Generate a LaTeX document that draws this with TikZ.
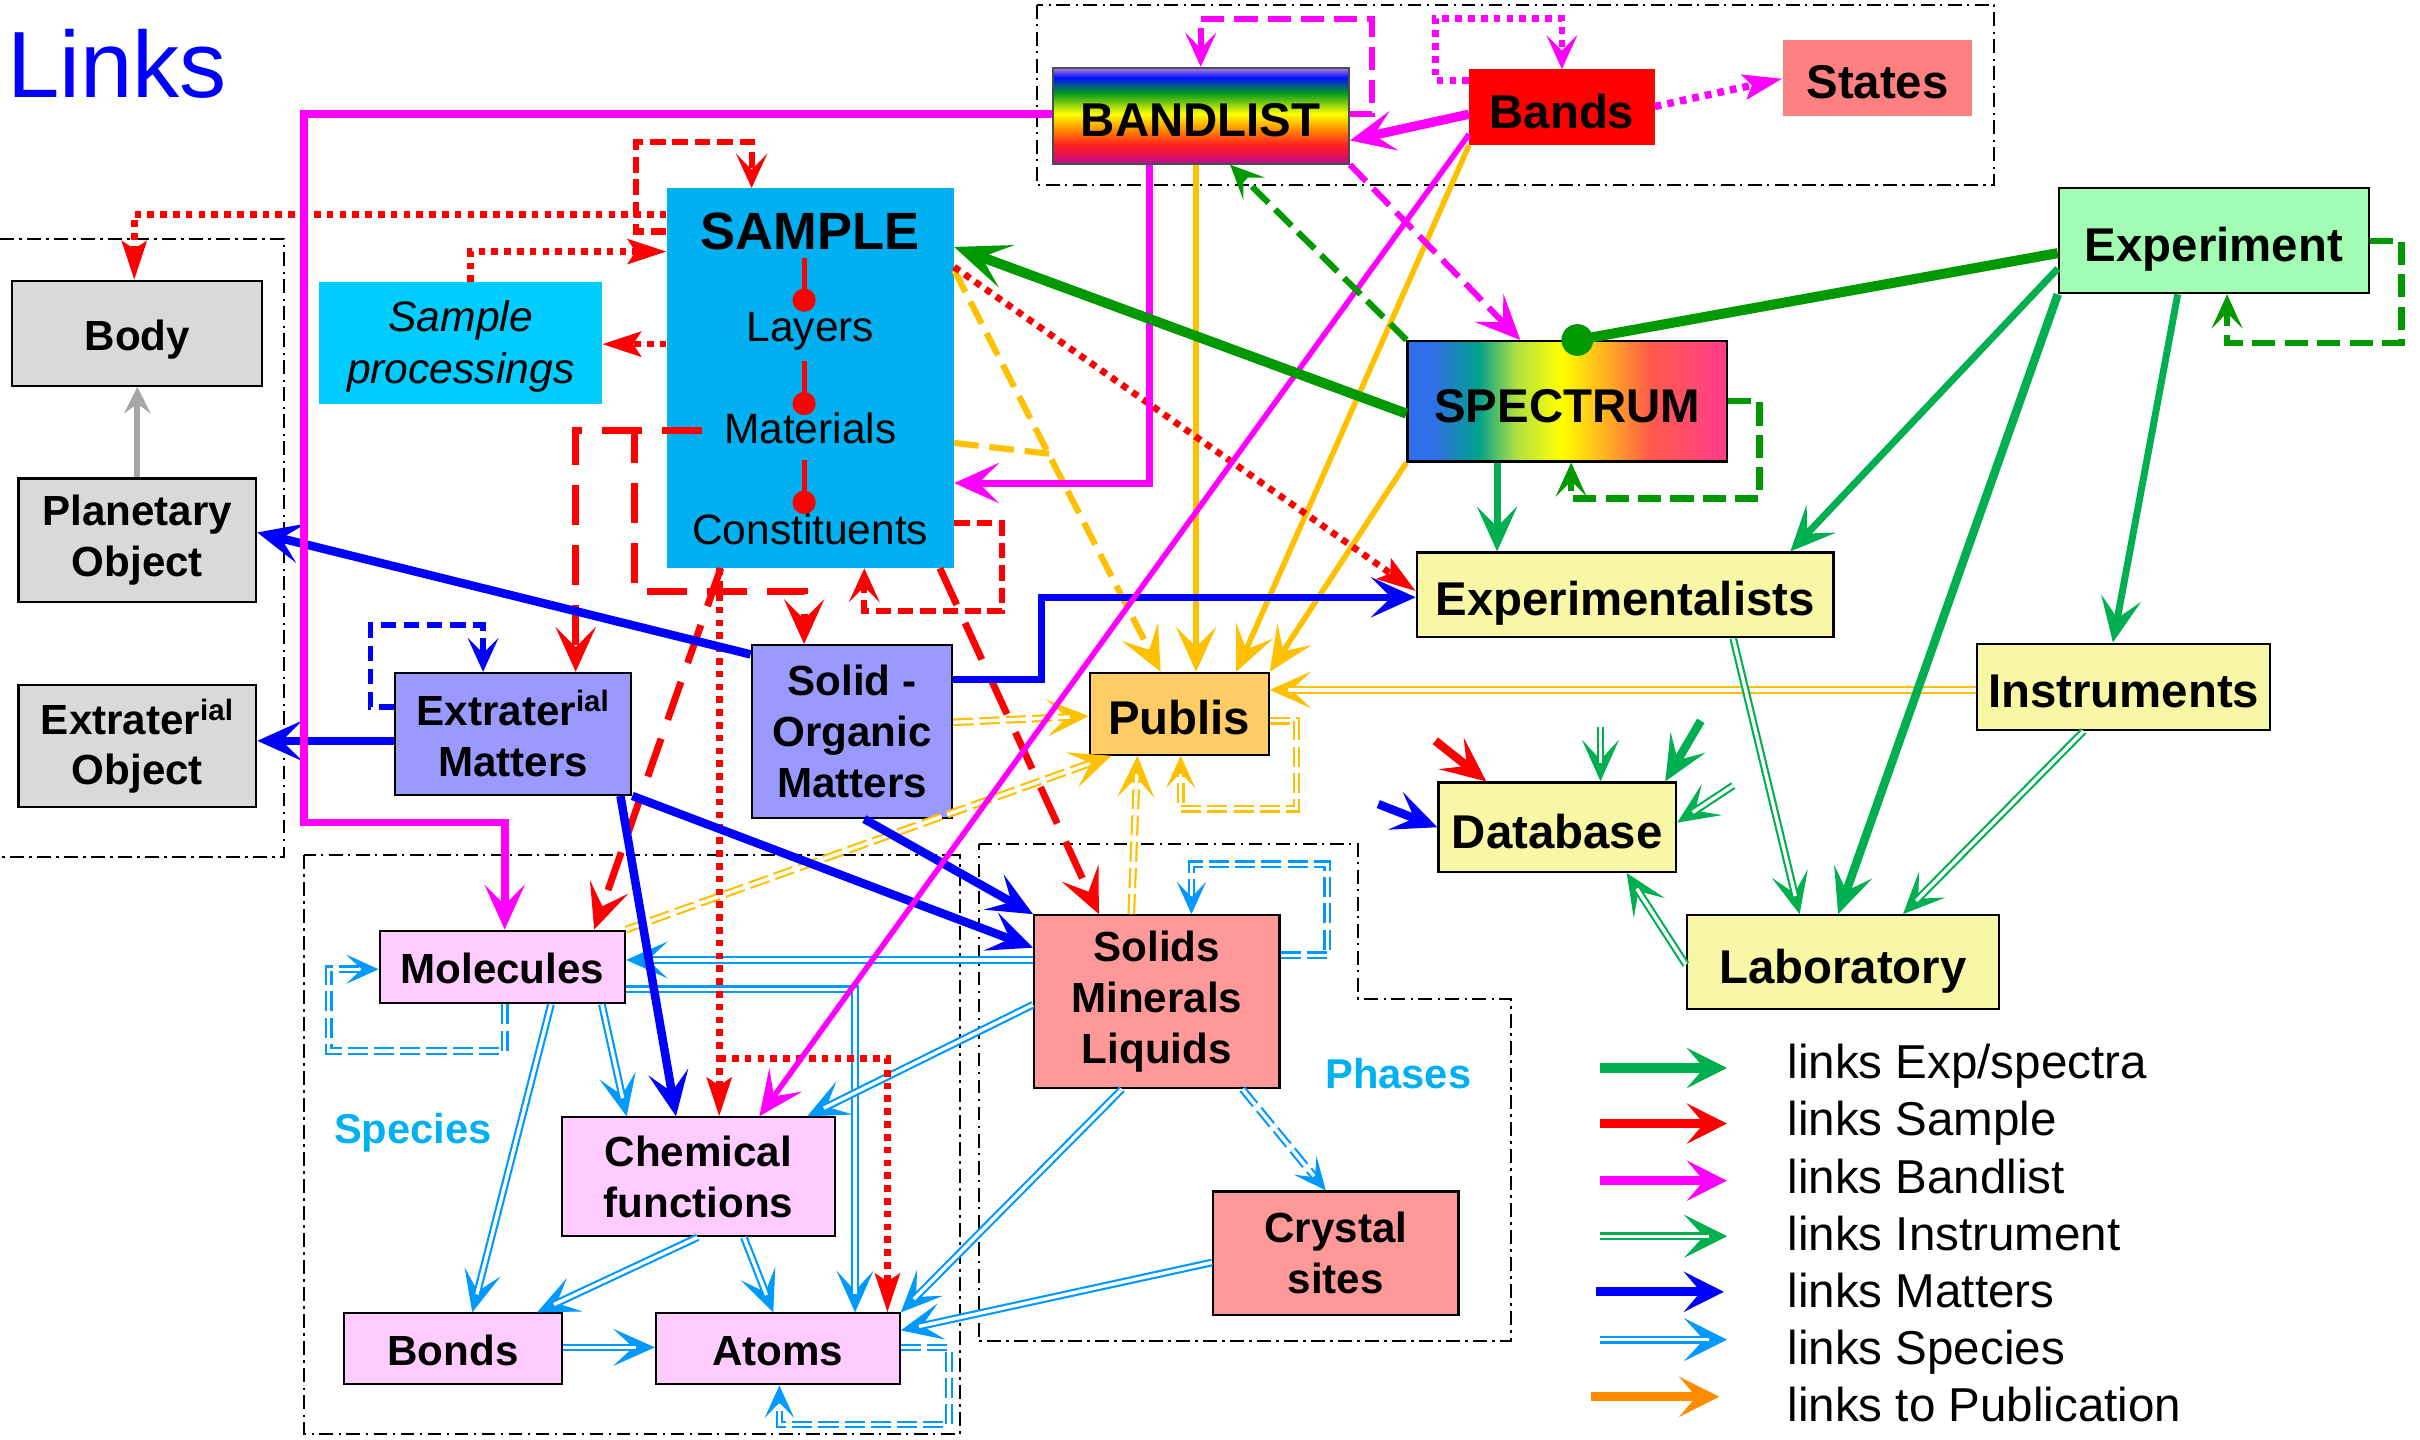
\documentclass[tikz,border=0pt]{standalone}
\usepackage{fontspec}
\setmainfont{Liberation Sans}
\usetikzlibrary{arrows.meta}
\definecolor{cSample}{HTML}{00B0F0}
\definecolor{cProc}{HTML}{00CCFF}
\definecolor{cGray}{HTML}{D9D9D9}
\definecolor{cMatt}{HTML}{9999FF}
\definecolor{cPub}{HTML}{FFCC66}
\definecolor{cExp}{HTML}{A3FCB3}
\definecolor{cYel}{HTML}{F7F7A5}
\definecolor{cPink}{HTML}{FFCCFF}
\definecolor{cSalm}{HTML}{FF9999}
\definecolor{cStates}{HTML}{FF8080}
\definecolor{cRed}{HTML}{FF0000}
\definecolor{cMag}{HTML}{FF00FF}
\definecolor{cBlue}{HTML}{0000FF}
\definecolor{cGreen}{HTML}{00B050}
\definecolor{cDGreen}{HTML}{009900}
\definecolor{cSpc}{HTML}{0099FF}
\definecolor{cOrg}{HTML}{FFC000}
\definecolor{cLOrg}{HTML}{FF8C00}
\definecolor{cArrGray}{HTML}{A6A6A6}
\definecolor{bsA}{HTML}{B0109A}
\definecolor{bsB}{HTML}{E0105A}
\definecolor{bsC}{HTML}{FF2020}
\definecolor{bsD}{HTML}{FF9000}
\definecolor{bsE}{HTML}{FFFF00}
\definecolor{bsF}{HTML}{009A20}
\definecolor{bsG}{HTML}{0010FF}
\definecolor{bsH}{HTML}{B080E0}
\definecolor{ssA}{HTML}{2F6FE8}
\definecolor{ssB}{HTML}{00A08C}
\definecolor{ssC}{HTML}{B0E040}
\definecolor{ssD}{HTML}{FFFF00}
\definecolor{ssE}{HTML}{FFB020}
\definecolor{ssF}{HTML}{FF5A4A}
\definecolor{ssG}{HTML}{FF3C8C}
% TikZ fits the central 25bp..75bp of a declared shading to the node
\pgfdeclareverticalshading{bandshade}{100bp}{color(0bp)=(bsA); color(25bp)=(bsA); color(29bp)=(bsB); color(35bp)=(bsC); color(43bp)=(bsD); color(51bp)=(bsE); color(62bp)=(bsF); color(70bp)=(bsG); color(75bp)=(bsH); color(100bp)=(bsH)}
\pgfdeclarehorizontalshading{specshade}{100bp}{color(0bp)=(ssA); color(29bp)=(ssA); color(36bp)=(ssB); color(42bp)=(ssC); color(49bp)=(ssD); color(56bp)=(ssE); color(63bp)=(ssF); color(75bp)=(ssG); color(100bp)=(ssG)}
\newcommand\fbig{\fontsize{30.7}{34}\selectfont\bfseries}
\newcommand\fsml{\fontsize{27.3}{33}\selectfont\bfseries}
\newcommand\fleg{\fontsize{30.8}{36}\selectfont}
\newcommand\dblarrow[3][dtip]{\draw[#2,line width=.6pt,#1] #3; \draw[#2,dline] #3;}
\tikzset{
  box/.style={draw=black, line width=1.4pt, inner sep=0pt, align=center},
  nb/.style={inner sep=0pt, align=center},
  wh/.style 2 args={minimum width=#1pt, minimum height=#2pt},
  bigt/.style={font=\fbig, text height=27pt, text depth=0pt},
  smlt/.style={font=\fsml, text height=21.6pt, text depth=0pt},
  sml/.style={font=\fsml},
  tipL/.style={-{Stealth[length=29pt,width=26pt,inset=13pt]}},
  tipX/.style={-{Stealth[length=36pt,width=29pt,inset=17pt]}},
  tipM/.style={-{Stealth[length=25pt,width=16pt,inset=5pt]}},
  tipS/.style={-{Stealth[length=22pt,width=20pt,inset=10pt]}},
  tipG/.style={-{Stealth[length=17pt,width=17pt,inset=6pt]}},
  dtip/.style={-{Stealth[length=27pt,width=24pt,inset=13pt]}},
  dtipS/.style={-{Stealth[length=21pt,width=19pt,inset=10pt]}},
  legtip/.style={-{Stealth[length=26pt,width=26pt,inset=11pt]}},
  legd/.style={-{Stealth[length=28pt,width=28pt,inset=13pt]}},
  dline/.style={double=white, double distance=2.2pt, line width=1.4pt, shorten >=12pt},
  mgs/.style={draw=cMag},
  rds/.style={draw=cRed},
  bls/.style={draw=cBlue, line width=5.5pt},
  ors/.style={draw=cOrg},
  grs/.style={draw=cGreen, line width=4.5pt},
  dgs/.style={draw=cDGreen},
  sps/.style={draw=cSpc},
  pdots/.style={line width=4.3pt, dash pattern=on 4.3pt off 4pt},
  pldash/.style={line width=4.5pt, dash pattern=on 26pt off 13pt},
  psdash/.style={line width=4pt, dash pattern=on 10pt off 4.5pt},
  pmdash/.style={line width=3.9pt, dash pattern=on 15pt off 6.5pt},
  pgdash/.style={line width=4pt, dash pattern=on 15pt off 6pt},
  podash/.style={line width=4pt, dash pattern=on 16pt off 7pt},
  pbdash/.style={line width=3.5pt, dash pattern=on 10pt off 5pt},
  pddash/.style={dash pattern=on 13pt off 4pt},
  grpbox/.style={draw=black, line width=1.3pt, dash pattern=on 9pt off 3.5pt on 1.5pt off 3.5pt}
}
\begin{document}
\begin{tikzpicture}[x=1pt,y=-1pt]
\useasboundingbox (0,0) rectangle (1568,933);

% group frames
\draw[grpbox] (672,3) rectangle (1292,120);
\draw[grpbox] (0,155) -- (184,155) -- (184,555) -- (0,555);
\draw[grpbox] (197,554) rectangle (622,929);
\draw[grpbox] (634,547) -- (880,547) -- (880,647) -- (979,647) -- (979,869) -- (634,869) -- cycle;

% title and labels
\node[anchor=base west, inner sep=0pt, text=cBlue, font=\fontsize{61}{70}\selectfont] (TT) at (4.5,63) {Links};
\node[anchor=base, inner sep=0pt, text=cSample, font=\fontsize{27}{30}\selectfont\bfseries] (SPL) at (267.5,741) {Species};
\node[anchor=base, inner sep=0pt, text=cSample, font=\fontsize{27}{30}\selectfont\bfseries] (PHL) at (906,705) {Phases};

% nodes
\node[box, fill=cGray, smlt, wh={162}{68}] (BO) at (89,216) {Body};
\node[box, fill=cGray, sml, wh={154}{80}] (PO) at (89,350) {Planetary\\Object};
\node[box, fill=cGray, sml, wh={154}{79}] (EO) at (89,483.5) {Extrater\textsuperscript{ial}\\Object};
\node[nb, fill=cProc, wh={183}{79}, font=\fontsize{27.6}{34}\selectfont\itshape] (SP) at (298.5,222.5) {\strut Sample\\processings};
\node[nb, fill=cSample, wh={186}{246}] (SA) at (525,245) {};
\node[anchor=base, inner sep=0pt, font=\fontsize{34}{40}\selectfont\bfseries] (SAt) at (525,161.5) {SAMPLE};
\node[anchor=base, inner sep=0pt, font=\fontsize{27.5}{30}\selectfont] (LAY) at (525,221.5) {Layers};
\node[anchor=base, inner sep=0pt, font=\fontsize{27.5}{30}\selectfont] (MAT) at (525,287.5) {Materials};
\node[anchor=base, inner sep=0pt, font=\fontsize{27.5}{30}\selectfont] (CON) at (525,353) {Constituents};
\node[box, draw=black!70, shading=bandshade, bigt, wh={192}{62}] (BL) at (778,75) {BANDLIST};
\node[nb, fill=cRed, bigt, wh={120}{49}] (BD) at (1012,69.5) {Bands};
\node[nb, fill=cStates, bigt, wh={123}{49}] (ST) at (1216.5,50.5) {States};
\node[box, shading=specshade, bigt, wh={207}{78}] (SPC) at (1015.5,260) {SPECTRUM};
\node[box, fill=cExp, bigt, wh={201}{68}] (EX) at (1434.5,156) {Experiment};
\node[box, fill=cYel, bigt, wh={270}{55}] (EXP) at (1053,385.5) {Experimentalists};
\node[box, fill=cYel, bigt, wh={190}{56}] (IN) at (1376,445) {Instruments};
\node[box, fill=cYel, bigt, wh={154}{58}] (DB) at (1009,536) {Database};
\node[box, fill=cYel, bigt, wh={202}{61}] (LA) at (1194,623.5) {Laboratory};
\node[box, fill=cPub, bigt, wh={116}{53}] (PU) at (764,462.5) {Publis};
\node[box, fill=cMatt, sml, wh={153}{79}] (EM) at (332.5,475.5) {Extrater\textsuperscript{ial}\\Matters};
\node[box, fill=cMatt, sml, wh={130}{112}] (SO) at (552,474) {Solid -\\Organic\\Matters};
\node[box, fill=cPink, smlt, wh={159}{47}] (MO) at (325.5,626.5) {Molecules};
\node[box, fill=cPink, sml, wh={177}{77}] (CF) at (452.5,762.5) {Chemical\\functions};
\node[box, fill=cPink, smlt, wh={141}{46}] (BN) at (293.5,874) {Bonds};
\node[box, fill=cPink, smlt, wh={158}{46}] (AT) at (504,874) {Atoms};
\node[box, fill=cSalm, sml, wh={159}{112}] (SM) at (749.5,649) {Solids\\Minerals\\Liquids};
\node[box, fill=cSalm, sml, wh={159}{80}] (CS) at (865.5,812) {Crystal\\sites};

% sample internal links
\draw[rds, line width=3.3pt, -{Circle[length=15pt]}] ([shift={(-4,5.5)}]SAt.base) -- ([shift={(-4,-19.5)}]LAY.base);
\draw[rds, line width=3.3pt, -{Circle[length=15pt]}] ([shift={(-4,12.5)}]LAY.base) -- ([shift={(-4,-18.5)}]MAT.base);
\draw[rds, line width=3.3pt, -{Circle[length=15pt]}] ([shift={(-4,10.5)}]MAT.base) -- ([shift={(-4,-20)}]CON.base);

% gray
\draw[draw=cArrGray, line width=4pt, tipG] (PO.north) -- (BO.south);

% orange links to publication
\draw[ors, line width=3.6pt, tipL] (775,0 |- BL.south) -- (775,0 |- PU.north);
\draw[ors, line width=3.6pt, tipL] (BD.south west) -- (801,0 |- PU.north);
\draw[ors, line width=3.6pt, tipL] (SPC.south west) -- (PU.north east);
\draw[ors, podash, tipL] (SA.east |- 0,175) -- (752,0 |- PU.north);
\coordinate (oj) at (680,294);
\draw[ors, podash] (SA.east |- 0,287) -- (oj);
\dblarrow{ors}{(IN.west |- 0,447) -- (PU.east |- 0,447)}
\dblarrow{ors,pddash}{(SO.east |- 0,468) -- (PU.west |- 0,464)}
\dblarrow{ors,pddash}{(MO.north east) -- (720,0 |- PU.south)}
\dblarrow{ors,pddash}{(733,0 |- SM.north) -- (737,0 |- PU.south)}
\dblarrow[dtipS]{ors,pddash}{(PU.east |- 0,467) -- (840,467) -- (840,524) -- (765,524) -- (765,0 |- PU.south)}

% species
\dblarrow{sps}{(SM.west |- 0,622) -- (MO.east |- 0,622)}
\dblarrow{sps}{(MO.east |- 0,641) -- (554,641) -- (554,0 |- AT.north)}
\dblarrow[dtipS]{sps,pddash}{(327,0 |- MO.south) -- (327,681) -- (213,681) -- (213,628) -- (MO.west |- 0,628)}
\dblarrow{sps}{(357,0 |- MO.south) -- (306,0 |- BN.north)}
\dblarrow{sps}{(390,0 |- MO.south) -- (406,0 |- CF.north)}
\dblarrow{sps}{(482,0 |- CF.south) -- (501,0 |- AT.north)}
\dblarrow{sps}{(452,0 |- CF.south) -- (348,0 |- BN.north)}
\dblarrow{sps}{(BN.east |- 0,873) -- (AT.west |- 0,873)}
\dblarrow[dtipS]{sps,pddash}{(AT.east |- 0,873) -- (615,873) -- (615,923) -- (505,923) -- (505,0 |- AT.south)}
\dblarrow{sps}{(SM.west |- 0,651) -- (523,0 |- CF.north)}
\dblarrow{sps}{(727,0 |- SM.south) -- (AT.north east)}
\dblarrow{sps}{(CS.west |- 0,818) -- (AT.east |- 0,862)}
\dblarrow[dtipS]{sps,pddash}{(805,0 |- SM.south) -- (859,0 |- CS.north)}
\dblarrow[dtipS]{sps,pddash}{(SM.east |- 0,619) -- (860,619) -- (860,560) -- (772,560) -- (772,0 |- SM.north)}

% red links (sample)
\draw[rds, pdots, tipM] (SA.west |- 0,139) -- (87,139) -- (87,0 |- BO.north);
\draw[rds, psdash, tipS] (SA.west |- 0,150) -- (412,150) -- (412,92) -- (487,92) -- (487,0 |- SA.north);
\draw[rds, pdots, tipM] (305,0 |- SP.north) -- (305,163) -- (SA.west |- 0,163);
\draw[rds, pdots, tipM] (SA.west |- 0,223) -- (SP.east |- 0,223);
\coordinate (m0) at (455,279);
\draw[rds, pldash, tipL] (m0) -- (411,279) -- (411,383) -- (521,383) -- (521,0 |- SO.north);
\draw[rds, pldash, tipL] (m0) -- (373,279) -- (373,0 |- EM.north);
\draw[rds, pldash, tipL] (467,0 |- SA.south) -- (385,0 |- MO.north);
\draw[rds, pldash, tipL] (609,0 |- SA.south) -- (712,0 |- SM.north);
\draw[rds, pdots, tipM] (466,0 |- SA.south) -- (466,0 |- CF.north);
\coordinate (rb) at (466,686);
\draw[rds, pdots, tipM] (rb) -- (575,686) -- (575,0 |- AT.north);
\draw[rds, psdash, tipS] (SA.east |- 0,339) -- (649,339) -- (649,396) -- (560,396) -- (560,0 |- SA.south);
\draw[rds, pdots, tipM] (SA.east |- 0,173) -- (EXP.west |- 0,383);

% blue links (matters)
\draw[bls, tipL] (SO.west |- 0,424) -- (PO.east |- 0,345);
\draw[bls, tipL] (EM.west |- 0,480) -- (EO.east |- 0,480);
\draw[bls, pbdash, tipS] (EM.west |- 0,458) -- (240,458) -- (240,405) -- (313,405) -- (313,0 |- EM.north);
\draw[bls, line width=4.5pt, tipL] (SO.east |- 0,440) -- (675,440) -- (675,387) -- (EXP.west |- 0,387);
\draw[bls, tipL] (EM.south east) -- (SM.west |- 0,614);
\draw[bls, tipL] (560,0 |- SO.south) -- (SM.north west);
\draw[bls, tipL] (402,0 |- EM.south) -- (438,0 |- CF.north);

% magenta links (bandlist)
\draw[mgs, line width=5pt, tipL] (BL.west |- 0,74) -- (197,74) -- (197,533) -- (327,533) -- (327,0 |- MO.north);
\draw[mgs, pmdash, tipS] (BL.east |- 0,74) -- (889,74) -- (889,12) -- (778,12) -- (778,0 |- BL.north);
\draw[mgs, pdots, tipS] (BD.west |- 0,52) -- (930,52) -- (930,12) -- (1012,12) -- (1012,0 |- BD.north);
\draw[mgs, pdots, line width=4.8pt, tipM] (BD.east |- 0,69) -- (ST.west |- 0,51);
\draw[mgs, line width=6pt, tipL] (BD.west |- 0,74) -- (BL.east |- 0,91);
\draw[mgs, line width=3.6pt, tipL] (BD.west |- 0,87) -- (492,0 |- CF.north);
\draw[mgs, pmdash, tipL] (BL.south east) -- (985,0 |- SPC.north);
\draw[mgs, line width=4.5pt, tipL] (745,0 |- BL.south) -- (745,313) -- (SA.east |- 0,313);

% green links (experiment / spectra)
\draw[dgs, line width=6.5pt] (EX.west |- 0,164) -- (1022,0 |- SPC.north);
\fill[cDGreen] (1022,0 |- SPC.north) circle (10.3pt);
\draw[dgs, line width=6.5pt, tipX] (SPC.west |- 0,268) -- (SA.east |- 0,160);
\draw[dgs, pgdash, tipS] (SPC.north west) -- (797,0 |- BL.south);
\draw[dgs, pgdash, tipS] (SPC.east |- 0,260) -- (1140,260) -- (1140,323) -- (1018,323) -- (1018,0 |- SPC.south);
\draw[dgs, pgdash, tipS] (EX.east |- 0,156) -- (1556,156) -- (1556,222) -- (1443,222) -- (1443,0 |- EX.south);
\draw[grs, tipL] (970,0 |- SPC.south) -- (970,0 |- EXP.north);
\draw[grs, tipL] (EX.west |- 0,174) -- (1160,0 |- EXP.north);
\draw[grs, line width=5.5pt, tipL] (EX.south west) -- (1191,0 |- LA.north);
\draw[grs, tipL] (1411,0 |- EX.south) -- (1369,0 |- IN.north);
\dblarrow{grs}{(1123,0 |- EXP.south) -- (1166,0 |- LA.north)}
\dblarrow{grs}{(1350,0 |- IN.south) -- (1233,0 |- LA.north)}
\dblarrow{grs}{(LA.west |- 0,625) -- (1054,0 |- DB.south)}

% stubs into Database
\coordinate (dbr) at (930,480);
\coordinate (dbga) at (1037,471);
\coordinate (dbgb) at (1102,467);
\coordinate (dbgc) at (1123,509);
\coordinate (dbb) at (893,521);
\draw[rds, line width=5.5pt, tipL] (dbr) -- (963,0 |- DB.north);
\dblarrow{grs}{(dbga) -- (1037,0 |- DB.north)}
\draw[grs, line width=5.5pt, tipL] (dbgb) -- (1079,0 |- DB.north);
\dblarrow{grs}{(dbgc) -- (DB.east |- 0,533)}
\draw[bls, tipL] (dbb) -- (DB.west |- 0,536);

% legend
\coordinate (g1a) at (1037,692); \coordinate (g1b) at (1119,692);
\coordinate (g2a) at (1037,728); \coordinate (g2b) at (1119,728);
\coordinate (g3a) at (1037,765); \coordinate (g3b) at (1119,765);
\coordinate (g4a) at (1037,801); \coordinate (g4b) at (1119,801);
\coordinate (g5a) at (1034,837); \coordinate (g5b) at (1117,837);
\coordinate (g6a) at (1037,868); \coordinate (g6b) at (1119,868);
\coordinate (g7a) at (1031,905); \coordinate (g7b) at (1114,905);
\draw[grs, line width=6pt, legtip] (g1a) -- (g1b);
\draw[rds, line width=6pt, legtip] (g2a) -- (g2b);
\draw[mgs, line width=6pt, legtip] (g3a) -- (g3b);
\dblarrow[legd]{grs}{(g4a) -- (g4b)}
\draw[bls, line width=6pt, legtip] (g5a) -- (g5b);
\dblarrow[legd]{sps}{(g6a) -- (g6b)}
\draw[draw=cLOrg, line width=6pt, legtip] (g7a) -- (g7b);
\node[anchor=base west, inner sep=0pt, font=\fleg] (L1) at (1158,699) {links Exp/spectra};
\node[anchor=base west, inner sep=0pt, font=\fleg] (L2) at (1158,736) {links Sample};
\node[anchor=base west, inner sep=0pt, font=\fleg] (L3) at (1158,773) {links Bandlist};
\node[anchor=base west, inner sep=0pt, font=\fleg] (L4) at (1158,810) {links Instrument};
\node[anchor=base west, inner sep=0pt, font=\fleg] (L5) at (1158,847) {links Matters};
\node[anchor=base west, inner sep=0pt, font=\fleg] (L6) at (1158,884) {links Species};
\node[anchor=base west, inner sep=0pt, font=\fleg] (L7) at (1158,921) {links to Publication};
\end{tikzpicture}
\end{document}
